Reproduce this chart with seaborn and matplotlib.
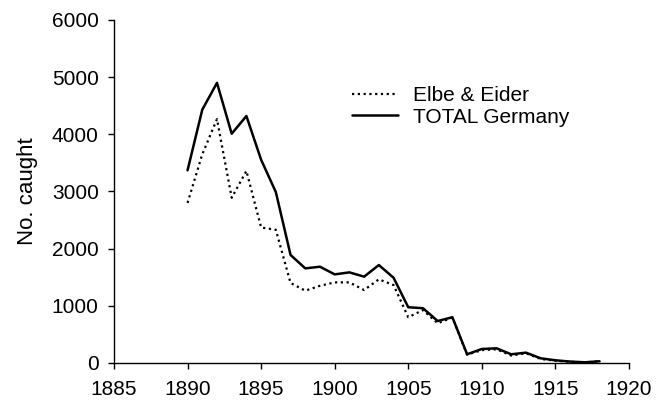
import numpy as np
import pandas as pd
import matplotlib
matplotlib.use('Agg')
import matplotlib.pyplot as plt
import seaborn as sns

# data
years = list(range(1890, 1919))
total_germany = [3370, 4430, 4900, 4010, 4320, 3555, 2990, 1890, 1655, 1684,
                 1550, 1585, 1510, 1713, 1492, 975, 958, 734, 800, 152,
                 245, 257, 152, 181, 82, 47, 25, 12, 30]
elbe_eider = [2800, 3650, 4265, 2890, 3360, 2370, 2330, 1400, 1265, 1350,
              1410, 1410, 1276, 1463, 1364, 800, 926, 694, 795, 145,
              225, 240, 130, 170, 70, 40, 20, 10, 30]
labels = ['Elbe & Eider', 'TOTAL Germany']

df = pd.DataFrame({'year': years, labels[0]: elbe_eider, labels[1]: total_germany})

sns.set_style('ticks')
plt.rcParams['font.family'] = ['Liberation Sans', 'DejaVu Sans']
plt.rcParams['text.color'] = 'black'
plt.rcParams['axes.labelcolor'] = 'black'
plt.rcParams['xtick.color'] = 'black'
plt.rcParams['ytick.color'] = 'black'

fig = plt.figure(figsize=(6.65, 4.01), dpi=100)
ax = fig.add_axes([0.1714, 0.0948, 0.7744, 0.8554])

sns.lineplot(x='year', y=labels[0], data=df, ax=ax, color='black',
             linewidth=1.6, linestyle=(0, (1, 1.6)), label=labels[0])
sns.lineplot(x='year', y=labels[1], data=df, ax=ax, color='black',
             linewidth=1.8, label=labels[1])

ax.set_xlim(1885, 1920)
ax.set_ylim(0, 6000)
ax.set_xticks(range(1885, 1921, 5))
ax.set_yticks(range(0, 6001, 1000))
ax.set_xlabel('')
ax.set_ylabel('No. caught', fontsize=16, labelpad=10)
ax.tick_params(axis='both', labelsize=15, length=4, width=1, direction='out')
ax.tick_params(axis='y', pad=7)
ax.tick_params(axis='x', pad=8)

for s in ['top', 'right']:
    ax.spines[s].set_visible(False)
for s in ['left', 'bottom']:
    ax.spines[s].set_color('black')
    ax.spines[s].set_linewidth(1)

leg = ax.legend(loc='upper left', bbox_to_anchor=(0.529, 0.785),
                bbox_transform=fig.transFigure, frameon=False, fontsize=15,
                handlelength=2.2, handletextpad=0.75, borderpad=0,
                borderaxespad=0, labelspacing=0.12)

fig.savefig('out.png', dpi=100)
